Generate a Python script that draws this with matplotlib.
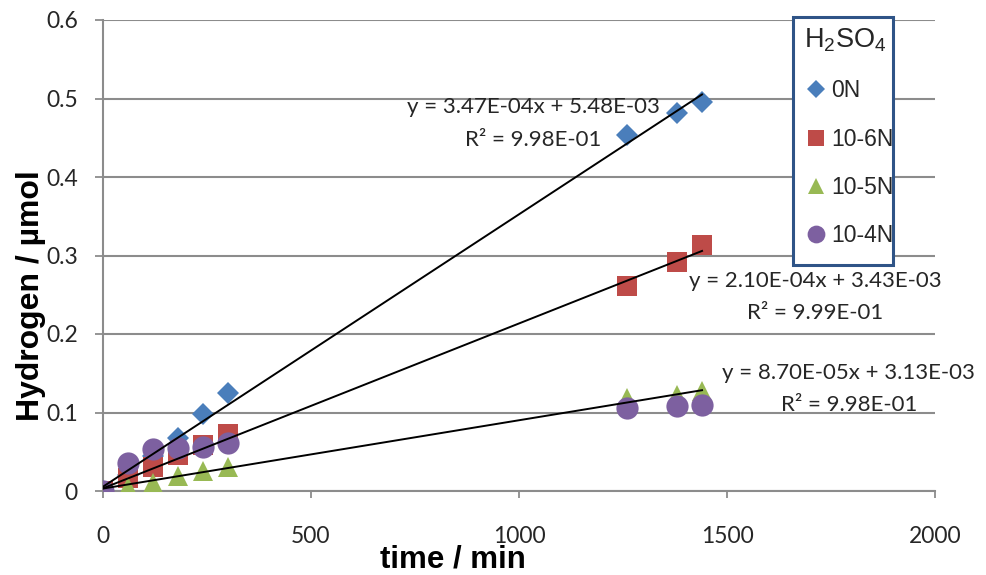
import matplotlib
matplotlib.use("Agg")
import matplotlib.pyplot as plt
from matplotlib.lines import Line2D
from matplotlib.patches import Rectangle
import numpy as np

plt.rcParams["mathtext.default"] = "regular"

# ---- data ----
time_min = [0, 60, 120, 180, 240, 300, 1260, 1380, 1440]
h_0N = [0.0, 0.020, 0.045, 0.067, 0.098, 0.125, 0.453, 0.482, 0.495]
h_1e6N = [0.0, 0.016, 0.031, 0.046, 0.058, 0.072, 0.261, 0.292, 0.313]
h_1e5N = [0.0, 0.005, 0.010, 0.019, 0.026, 0.031, 0.118, 0.122, 0.127]
h_1e4N = [0.0, 0.036, 0.053, 0.055, 0.056, 0.061, 0.106, 0.108, 0.110]
series_labels = ["0N", "10-6N", "10-5N", "10-4N"]
legend_title = "H$_2$SO$_4$"

fit_slopes = [3.47e-4, 2.10e-4, 8.70e-5]
fit_intercepts = [5.48e-3, 3.43e-3, 3.13e-3]
fit_r2 = ["9.98E-01", "9.99E-01", "9.98E-01"]
fit_eq = ["y = 3.47E-04x + 5.48E-03", "y = 2.10E-04x + 3.43E-03", "y = 8.70E-05x + 3.13E-03"]

x_ticks = [0, 500, 1000, 1500, 2000]
y_ticks = [0, 0.1, 0.2, 0.3, 0.4, 0.5, 0.6]
y_ticklabels = ["0", "0.1", "0.2", "0.3", "0.4", "0.5", "0.6"]

# ---- style ----
colors = ["#4a7ebb", "#be4b48", "#98b954", "#7d60a0"]
markers = ["D", "s", "^", "o"]
msizes = [11, 15, 14.5, 16]
grid_c = "#8c8c8c"
txt_c = "#262626"
FONT = ["Lato", "DejaVu Sans"]
ARIAL = ["Liberation Sans", "DejaVu Sans"]

fig = plt.figure(figsize=(9.87, 5.75), dpi=100)
ax = fig.add_axes([103 / 987, 1 - 491 / 575, (935 - 103) / 987, (491 - 20) / 575])

series = [h_0N, h_1e6N, h_1e5N, h_1e4N]
for ys, c, m, ms in zip(series, colors, markers, msizes):
    ax.plot(time_min, ys, linestyle="none", marker=m, markersize=ms,
            color=c, markeredgewidth=0, zorder=3)

xfit = np.array([0, max(time_min)])
for s, b in zip(fit_slopes, fit_intercepts):
    ax.plot(xfit, s * xfit + b, color="black", lw=1.4, zorder=4)

ax.set_xlim(0, 2000)
ax.set_ylim(0, 0.6)
ax.set_xticks(x_ticks)
ax.set_xticklabels([str(v) for v in x_ticks])
ax.set_yticks(y_ticks)
ax.set_yticklabels(y_ticklabels)
for lab in ax.get_xticklabels() + ax.get_yticklabels():
    lab.set_fontfamily(FONT)
    lab.set_fontsize(16.5)
    lab.set_color(txt_c)

ax.yaxis.grid(True, color=grid_c, lw=1.5)
ax.set_axisbelow(True)
for sp in ["top", "right"]:
    ax.spines[sp].set_visible(False)
for sp in ["left", "bottom"]:
    ax.spines[sp].set_color(grid_c)
    ax.spines[sp].set_linewidth(1.5)
ax.tick_params(axis="both", colors=grid_c, width=1.3, labelcolor=txt_c)
ax.tick_params(axis="x", length=5, pad=20)
ax.tick_params(axis="y", length=6, pad=12)

ax.set_xlabel("time / min", fontfamily=ARIAL, fontweight="bold", fontsize=22.5)
ax.xaxis.set_label_coords(0.421, -0.113)
ax.set_ylabel("Hydrogen / µmol", fontfamily=ARIAL, fontweight="bold", fontsize=23)
ax.yaxis.set_label_coords(-0.068, 0.414)

# trendline labels (two lines each, centred)
label_pos = [(1034, 0.489, 0.447), (1712, 0.268, 0.227), (1793, 0.150, 0.109)]
for (x, y1, y2), eq, r2 in zip(label_pos, fit_eq, fit_r2):
    ax.text(x, y1, eq, ha="center", va="center", fontsize=16, fontfamily=FONT,
            color=txt_c, zorder=5)
    ax.text(x, y2, "R² = " + r2, ha="center", va="center", fontsize=16,
            fontfamily=FONT, color=txt_c, zorder=5)

# legend box
frame = Rectangle(((793 - 103) / 832, (491 - 265) / 471), 100 / 832, 248 / 471,
                  transform=ax.transAxes, facecolor="white", edgecolor="#2f5487",
                  lw=2.2, zorder=9, clip_on=False)
ax.add_patch(frame)

handles = [Line2D([], [], linestyle="none", marker=m, markersize=ms * 0.8,
                  color=c, markeredgewidth=0)
           for c, m, ms in zip(colors, markers, msizes)]
leg = ax.legend(handles, series_labels, title=legend_title,
                loc="upper left", bbox_to_anchor=((783 - 103) / 832, (491 - 6) / 471),
                frameon=False, borderpad=0.9, borderaxespad=0,
                labelspacing=1.1, handlelength=1.05, handletextpad=0.15,
                prop={"family": ARIAL, "size": 16.5},
                title_fontproperties={"family": ARIAL, "size": 19.5})
leg._legend_box.align = "left"
leg.set_zorder(10)
for t in leg.get_texts():
    t.set_color(txt_c)
leg.get_title().set_color(txt_c)

fig.savefig("out.png", dpi=100)
